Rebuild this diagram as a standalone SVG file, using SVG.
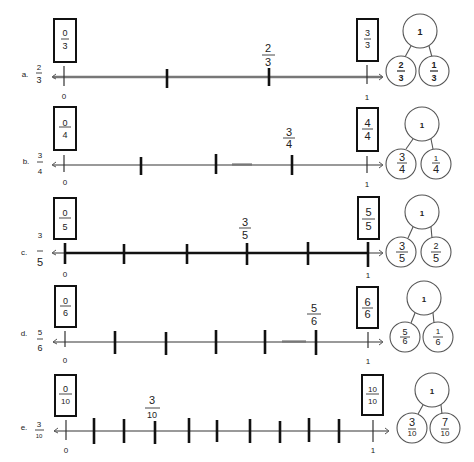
<svg xmlns="http://www.w3.org/2000/svg" width="474" height="462" viewBox="0 0 474 462">
<style>
text{font-family:"Liberation Sans",Arial,sans-serif;fill:#222;text-anchor:middle}
.s{font-size:9px}
.l{font-size:11px}
.t{font-size:8px}
.b{font-weight:bold}
.box{fill:#fff;stroke:#111;stroke-width:2}
.bar{stroke:#333;stroke-width:0.9}
.ln{stroke:#777;stroke-width:1.4;fill:none}
.tk{stroke:#111;stroke-width:2.6}
.th{stroke:#333;stroke-width:1.2}
.c{fill:#fff;stroke:#555;stroke-width:1.1}
.cn{stroke:#555;stroke-width:1.1}
.ar{fill:none;stroke:#555;stroke-width:1}
</style>
<rect width="474" height="462" fill="#fff"/>
<g id="connectors">
<!-- row a -->
<line x1="53" y1="77" x2="382" y2="77" class="ln" style="stroke-width:2.6"/>
<polyline points="56,74 52,77 56,79" class="ar"/>
<polyline points="379,74 383,77 379,80" class="ar"/>
<line x1="64" y1="66" x2="64" y2="86" class="th"/>
<line x1="167" y1="69" x2="167" y2="88" class="tk"/>
<line x1="269" y1="68" x2="269" y2="86" class="tk"/>
<line x1="367" y1="65" x2="367" y2="84" class="th"/>
<!-- row b -->
<line x1="53" y1="165" x2="382" y2="165" class="ln"/>
<line x1="232" y1="164.5" x2="252" y2="164.5" class="ln" style="stroke-width:2.2"/>
<polyline points="56,162 52,165 56,167" class="ar"/>
<polyline points="379,162 383,165 379,168" class="ar"/>
<line x1="64" y1="155" x2="64" y2="172" class="th"/>
<line x1="141" y1="157" x2="141" y2="175" class="tk"/>
<line x1="216" y1="154" x2="216" y2="174" class="tk"/>
<line x1="292" y1="155" x2="292" y2="175" class="tk"/>
<line x1="367" y1="156" x2="367" y2="173" class="th"/>
<!-- row c -->
<line x1="53" y1="253" x2="382" y2="253" class="ln"/>
<line x1="65" y1="253" x2="368" y2="253" stroke="#111" stroke-width="2.4"/>
<polyline points="56,250 52,253 56,255" class="ar"/>
<polyline points="379,250 383,253 379,256" class="ar"/>
<line x1="65" y1="243" x2="65" y2="264" class="tk"/>
<line x1="124" y1="244" x2="124" y2="264" class="tk"/>
<line x1="187" y1="244" x2="187" y2="264" class="tk"/>
<line x1="247" y1="243" x2="247" y2="265" class="tk"/>
<line x1="308" y1="242" x2="308" y2="265" class="tk"/>
<line x1="368" y1="242" x2="368" y2="267" class="tk"/>
<!-- row d -->
<line x1="53" y1="342" x2="382" y2="342" class="ln"/>
<line x1="282" y1="341.5" x2="306" y2="341.5" class="ln" style="stroke-width:2.2"/>
<polyline points="57,339 53,342 57,344" class="ar"/>
<polyline points="379,339 383,342 379,345" class="ar"/>
<line x1="65" y1="331" x2="65" y2="347" class="th"/>
<line x1="115" y1="331" x2="115" y2="354" class="tk"/>
<line x1="166" y1="332" x2="166" y2="355" class="tk"/>
<line x1="216" y1="330" x2="216" y2="354" class="tk"/>
<line x1="265" y1="330" x2="265" y2="354" class="tk"/>
<line x1="316" y1="330" x2="316" y2="355" class="tk"/>
<line x1="368" y1="332" x2="368" y2="348" class="th"/>
<!-- row e -->
<line x1="54" y1="431" x2="388" y2="431" class="ln"/>
<polyline points="58,428 54,431 58,433" class="ar"/>
<polyline points="385,428 389,431 385,434" class="ar"/>
<line x1="66" y1="420" x2="66" y2="440" class="th"/>
<line x1="94" y1="418" x2="94" y2="444" class="tk"/>
<line x1="124" y1="419" x2="124" y2="443" class="tk"/>
<line x1="155" y1="421" x2="155" y2="444" class="tk"/>
<line x1="189" y1="418" x2="189" y2="443" class="tk"/>
<line x1="217" y1="420" x2="217" y2="442" class="tk"/>
<line x1="250" y1="419" x2="250" y2="443" class="tk"/>
<line x1="280" y1="421" x2="280" y2="443" class="tk"/>
<line x1="309" y1="418" x2="309" y2="442" class="tk"/>
<line x1="339" y1="419" x2="339" y2="443" class="tk"/>
<line x1="373" y1="420" x2="373" y2="442" class="th"/>
<!-- bond connectors -->
<line x1="411" y1="46" x2="405" y2="57" class="cn"/>
<line x1="429" y1="46" x2="432" y2="57" class="cn"/>
<line x1="413" y1="139" x2="406" y2="149" class="cn"/>
<line x1="431" y1="139" x2="433" y2="149" class="cn"/>
<line x1="413" y1="227" x2="408" y2="238" class="cn"/>
<line x1="431" y1="227" x2="432" y2="238" class="cn"/>
<line x1="415" y1="313" x2="411" y2="323" class="cn"/>
<line x1="433" y1="313" x2="434" y2="323" class="cn"/>
<line x1="423" y1="405" x2="418" y2="414" class="cn"/>
<line x1="441" y1="405" x2="442" y2="414" class="cn"/>
</g>
<g id="row-a">
<text x="25" y="77" class="t">a.</text>
<text x="39" y="70" class="t">2</text><line x1="36" y1="73" x2="42" y2="73" class="bar"/><text x="39" y="83" class="s">3</text>
<rect x="54" y="19" width="22" height="43" class="box"/>
<text x="65" y="36" class="s">0</text><line x1="61" y1="39" x2="69" y2="39" class="bar"/><text x="65" y="49" class="s">3</text>
<rect x="357" y="19" width="21" height="42" class="box"/>
<text x="367.5" y="36" class="s">3</text><line x1="364" y1="39" x2="371" y2="39" class="bar"/><text x="367.5" y="48" class="s">3</text>
<text x="268" y="52" class="l">2</text><line x1="262" y1="55" x2="275" y2="55" class="bar"/><text x="268" y="66" class="l">3</text>
<text x="64" y="99" class="t">0</text>
<text x="367" y="100" class="t">1</text>
</g>
<g id="row-b">
<text x="26" y="164" class="t">b.</text>
<text x="40" y="158" class="t">3</text><line x1="37" y1="162" x2="43" y2="162" class="bar"/><text x="40" y="174" class="t">4</text>
<rect x="54" y="107" width="22" height="43" class="box"/>
<text x="65" y="126" class="s">0</text><line x1="59" y1="127" x2="71" y2="127" class="bar"/><text x="65" y="138" class="s">4</text>
<rect x="357" y="108" width="21" height="43" class="box"/>
<text x="367.5" y="127" class="l">4</text><line x1="362" y1="129" x2="373" y2="129" class="bar"/><text x="367.5" y="140" class="l">4</text>
<text x="289" y="136" class="l">3</text><line x1="283" y1="138" x2="295" y2="138" class="bar"/><text x="289" y="148" class="l">4</text>
<text x="65" y="185" class="t">0</text>
<text x="367" y="187" class="t">1</text>
</g>
<g id="row-c">
<text x="24" y="255" class="t">c.</text>
<text x="40" y="238" class="t">3</text><line x1="37" y1="251" x2="43" y2="251" class="bar"/><text x="40" y="266" class="l">5</text>
<rect x="54" y="198" width="22" height="41" class="box"/>
<text x="65" y="216" class="s">0</text><line x1="59" y1="218" x2="71" y2="218" class="bar"/><text x="65" y="230" class="s">5</text>
<rect x="358" y="197" width="21" height="42" class="box"/>
<text x="368.5" y="216" class="l">5</text><line x1="362" y1="219" x2="375" y2="219" class="bar"/><text x="368.5" y="230" class="l">5</text>
<text x="245" y="226" class="l">3</text><line x1="239" y1="228" x2="251" y2="228" class="bar"/><text x="245" y="239" class="l">5</text>
<text x="65" y="277" class="t">0</text>
<text x="368" y="278" class="t">1</text>
</g>
<g id="row-d">
<text x="24" y="336" class="t">d.</text>
<text x="40" y="335" class="t">5</text><line x1="37" y1="339" x2="43" y2="339" class="bar"/><text x="40" y="351" class="s">6</text>
<rect x="55" y="286" width="21" height="41" class="box"/>
<text x="65.5" y="304" class="s">0</text><line x1="60" y1="306" x2="71" y2="306" class="bar"/><text x="65.5" y="316" class="s">6</text>
<rect x="357" y="287" width="21" height="41" class="box"/>
<text x="367.5" y="306" class="l">6</text><line x1="362" y1="308" x2="373" y2="308" class="bar"/><text x="367.5" y="318" class="l">6</text>
<text x="314" y="312" class="l">5</text><line x1="307" y1="314" x2="321" y2="314" class="bar"/><text x="314" y="325" class="l">6</text>
<text x="65" y="363" class="t">0</text>
<text x="368" y="364" class="t">1</text>
</g>
<g id="row-e">
<text x="24" y="430" class="t">e.</text>
<text x="39" y="427" class="t">3</text><line x1="35" y1="430" x2="44" y2="430" class="bar"/><text x="39" y="438" style="font-size:6px">10</text>
<rect x="55" y="375" width="21" height="41" class="box"/>
<text x="65.5" y="392" class="s">0</text><line x1="59" y1="394" x2="72" y2="394" class="bar"/><text x="65.5" y="404" class="t">10</text>
<rect x="362" y="375" width="21" height="40" class="box"/>
<text x="372.5" y="392" class="t">10</text><line x1="366" y1="394" x2="379" y2="394" class="bar"/><text x="372.5" y="404" class="t">10</text>
<text x="152" y="404" class="l">3</text><line x1="145" y1="408" x2="160" y2="408" class="bar"/><text x="152" y="418" class="s">10</text>
<text x="66" y="453" class="t">0</text>
<text x="373" y="453" class="t">1</text>
</g>
<g id="bond-a">
<circle cx="420" cy="31" r="17" class="c"/><text x="420" y="35" class="s b">1</text>
<circle cx="401" cy="71" r="15" class="c"/>
<text x="401" y="68" class="s b">2</text><line x1="397" y1="71" x2="405" y2="71" class="bar" style="stroke-width:1.3"/><text x="401" y="81" class="s b">3</text>
<circle cx="434" cy="71" r="15" class="c"/>
<text x="434" y="68" class="s b">1</text><line x1="430" y1="71" x2="438" y2="71" class="bar" style="stroke-width:1.3"/><text x="434" y="81" class="s b">3</text>
</g>
<g id="bond-b">
<circle cx="422" cy="124" r="17" class="c"/><text x="422" y="128" class="t b">1</text>
<circle cx="401" cy="164" r="15" class="c"/>
<text x="402" y="161" class="l">3</text><line x1="397" y1="163" x2="407" y2="163" class="bar"/><text x="402" y="173" class="l">4</text>
<circle cx="436" cy="164" r="15" class="c"/>
<text x="436" y="161" class="t">1</text><line x1="432" y1="163" x2="440" y2="163" class="bar"/><text x="436" y="173" class="l">4</text>
</g>
<g id="bond-c">
<circle cx="422" cy="212" r="17" class="c"/><text x="422" y="216" class="t b">1</text>
<circle cx="401" cy="252" r="15" class="c"/>
<text x="402" y="250" class="l">3</text><line x1="396" y1="252" x2="408" y2="252" class="bar"/><text x="402" y="262" class="l">5</text>
<circle cx="436" cy="252" r="15" class="c"/>
<text x="436" y="249" class="s">2</text><line x1="431" y1="252" x2="441" y2="252" class="bar"/><text x="436" y="262" class="l">5</text>
</g>
<g id="bond-d">
<circle cx="424" cy="298" r="17" class="c"/><text x="424" y="302" class="t b">1</text>
<circle cx="405" cy="337" r="15" class="c"/>
<text x="405" y="335" class="s">5</text><line x1="400" y1="337" x2="410" y2="337" class="bar"/><text x="405" y="344" class="s">6</text>
<circle cx="438" cy="337" r="15" class="c"/>
<text x="438" y="334" class="t">1</text><line x1="433" y1="337" x2="443" y2="337" class="bar"/><text x="438" y="345" class="s">6</text>
</g>
<g id="bond-e">
<circle cx="432" cy="390" r="17" class="c"/><text x="432" y="394" class="t b">1</text>
<circle cx="412" cy="428" r="15" class="c"/>
<text x="412" y="426" class="l">3</text><line x1="408" y1="429" x2="416" y2="429" class="bar"/><text x="412" y="436" class="t">10</text>
<circle cx="445" cy="428" r="15" class="c"/>
<text x="445" y="426" class="l">7</text><line x1="441" y1="429" x2="449" y2="429" class="bar"/><text x="445" y="436" class="t">10</text>
</g>
</svg>
